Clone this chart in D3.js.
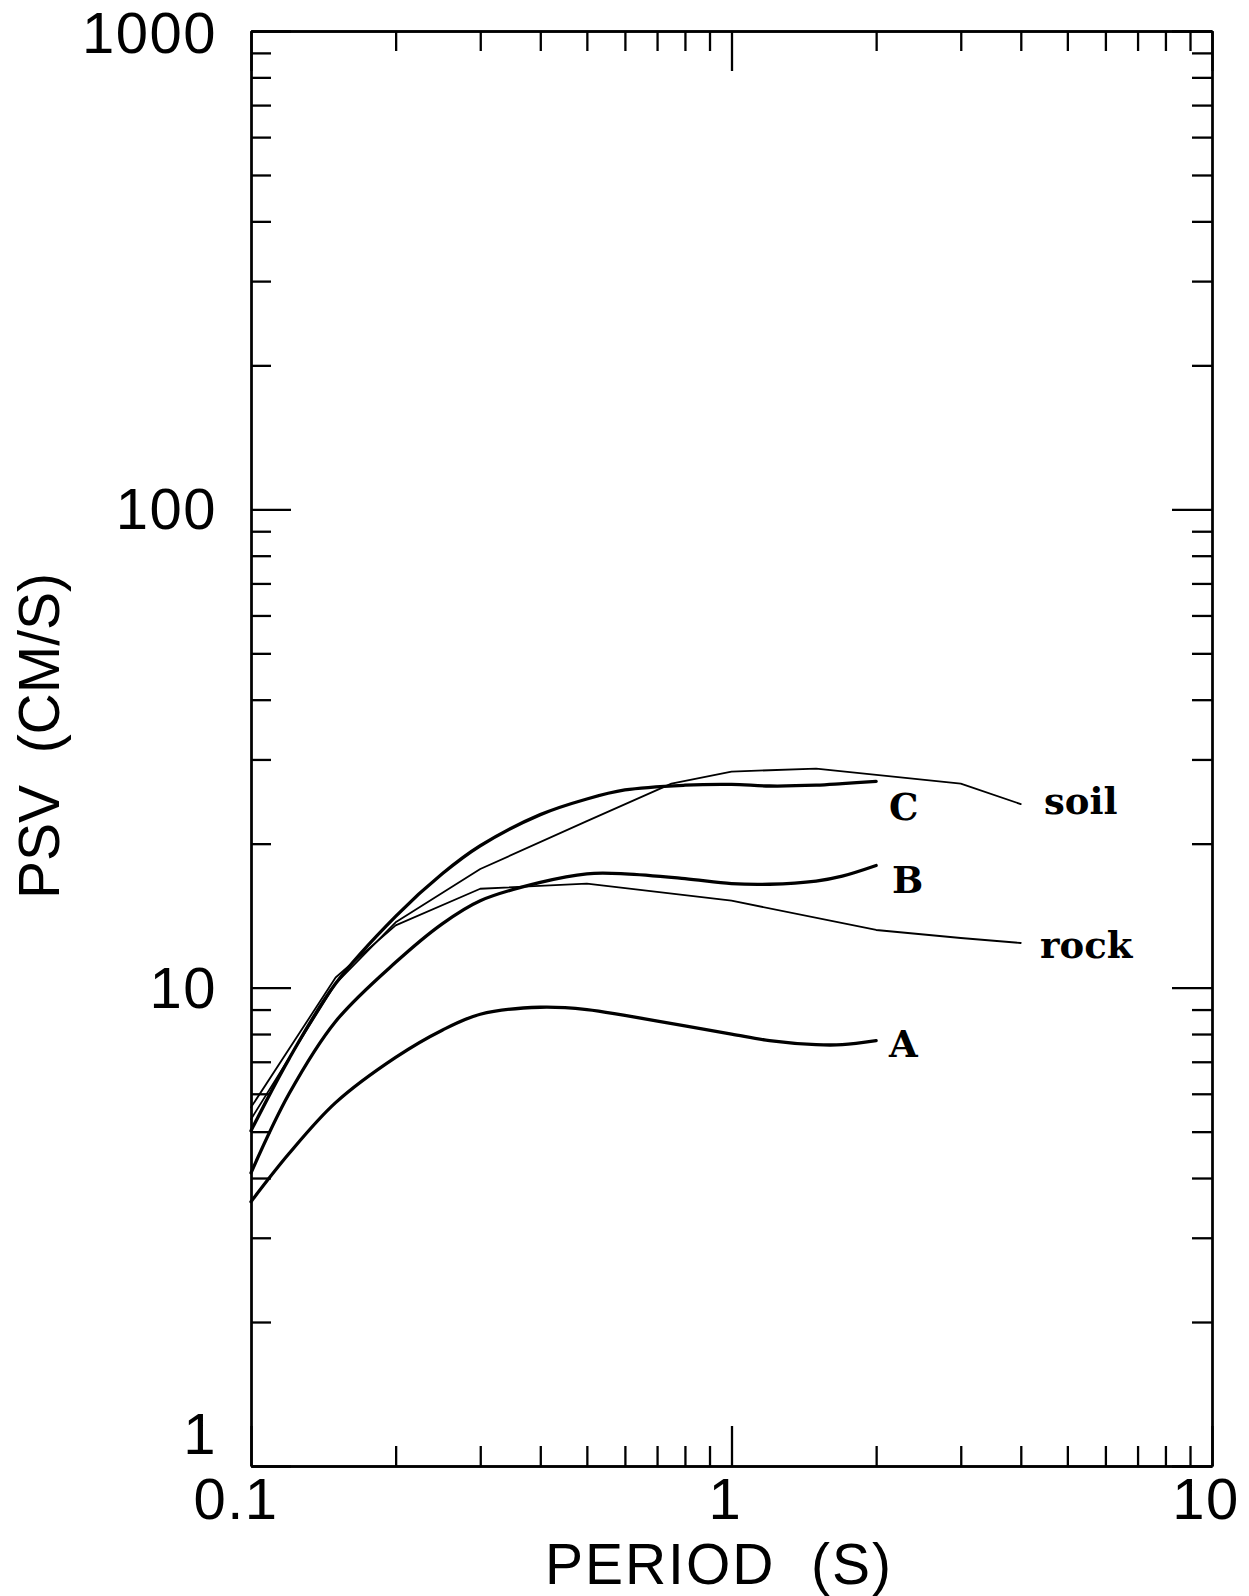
<!DOCTYPE html>
<html><head><meta charset="utf-8">
<script src="https://cdn.jsdelivr.net/npm/d3@7"></script>
<style>html,body{margin:0;padding:0;background:#fff;} svg{display:block;background:#fff} text{white-space:pre}</style>
</head><body>
<svg id="chart" width="1249" height="1596"></svg>
<script>
// ---- data ----
const xTickValues = [0.1, 1, 10];
const xTickLabels = ["0.1", "1", "10"];
const yTickValues = [1, 10, 100, 1000];
const yTickLabels = ["1", "10", "100", "1000"];
const xTitle = "PERIOD  (S)";
const yTitle = "PSV  (CM/S)";

const periodsSite = [0.1, 0.12, 0.15, 0.2, 0.25, 0.3, 0.4, 0.5, 0.6, 0.8, 1.0, 1.2, 1.5, 1.7, 2.0];
const siteA = [3.57, 4.5, 5.75, 7.15, 8.15, 8.8, 9.1, 9.0, 8.75, 8.32, 8.0, 7.75, 7.6, 7.6, 7.75];
const siteB = [4.1, 6.0, 8.5, 11.3, 13.6, 15.2, 16.6, 17.3, 17.3, 16.9, 16.5, 16.45, 16.7, 17.1, 18.0];
const siteC = [5.02, 7.1, 10.2, 14.1, 17.3, 19.8, 23.0, 24.8, 25.9, 26.5, 26.6, 26.4, 26.5, 26.7, 27.0];

const periodsSoil = [0.1, 0.15, 0.2, 0.3, 0.5, 0.75, 1.0, 1.5, 3.0, 4.0];
const soil = [5.31, 10.2, 13.7, 17.7, 22.3, 26.7, 28.3, 28.7, 26.7, 24.2];

const periodsRock = [0.1, 0.15, 0.2, 0.3, 0.5, 1.0, 2.0, 3.0, 4.0];
const rock = [5.62, 10.5, 13.5, 16.1, 16.5, 15.2, 13.2, 12.7, 12.4];

const seriesNames = ["A", "B", "C", "soil", "rock"];

// ---- layout ----
const L = 251, R = 1212, T = 31, B = 1466;
const svg = d3.select("#chart");
const x = d3.scaleLog().domain([0.1, 10]).range([L, R]);
const y = d3.scaleLog().domain([1, 1000]).range([B, T]);

const isMajor = v => Math.abs(Math.log10(v) - Math.round(Math.log10(v))) < 1e-9;
const xMinor = x.ticks().filter(v => !isMajor(v));
const yMinor = y.ticks().filter(v => !isMajor(v));

const MAJ = 40, MIN = 20;
function styleAxis(g) {
  g.selectAll("path.domain").attr("stroke", "#000").attr("stroke-width", 2.3);
  g.selectAll(".tick line").attr("stroke", "#000").attr("stroke-width", 2.3);
  g.selectAll(".tick text").remove();
}
function addAxis(axisFn, scale, tx, ty, vals, size) {
  const g = svg.append("g").attr("transform", `translate(${tx},${ty})`)
    .call(axisFn(scale).tickValues(vals).tickSize(-size).tickSizeOuter(0).tickFormat(""));
  styleAxis(g);
}
addAxis(d3.axisBottom, x, 0, B, xMinor, MIN);
addAxis(d3.axisBottom, x, 0, B, xTickValues, MAJ);
addAxis(d3.axisTop, x, 0, T, xMinor, MIN);
addAxis(d3.axisTop, x, 0, T, xTickValues, MAJ);
addAxis(d3.axisLeft, y, L, 0, yMinor, MIN);
addAxis(d3.axisLeft, y, L, 0, yTickValues, MAJ);
addAxis(d3.axisRight, y, R, 0, yMinor, MIN);
addAxis(d3.axisRight, y, R, 0, yTickValues, MAJ);

const sans = "'Liberation Sans', Arial, Helvetica, sans-serif";
svg.append("g").selectAll("text").data(xTickValues).join("text")
  .attr("x", (d, i) => x(d) + (i === 0 ? -15 : -6)).attr("y", 1519)
  .attr("text-anchor", "middle").attr("font-family", sans).attr("font-size", 58)
  .attr("letter-spacing", 1.5)
  .text((d, i) => xTickLabels[i]);
svg.append("g").selectAll("text").data(yTickValues).join("text")
  .attr("x", 217).attr("y", d => d === 1 ? y(d) - 12.5 : Math.max(y(d) + 20, 53))
  .attr("text-anchor", "end").attr("font-family", sans).attr("font-size", 58)
  .attr("letter-spacing", 1.5)
  .text((d, i) => yTickLabels[i]);

svg.append("text").attr("x", 719).attr("y", 1583.5)
  .attr("text-anchor", "middle").attr("font-family", sans).attr("font-size", 57)
  .attr("letter-spacing", 2)
  .text(xTitle);
svg.append("text").attr("transform", "translate(59,736) rotate(-90)")
  .attr("text-anchor", "middle").attr("font-family", sans).attr("font-size", 57)
  .text(yTitle);

// curves
const smooth = d3.line().x(d => x(d[0])).y(d => y(d[1])).curve(d3.curveCatmullRom.alpha(0.5));
const straight = d3.line().x(d => x(d[0])).y(d => y(d[1]));
const zip = (a, b) => a.map((v, i) => [v, b[i]]);

const series = [
  {name: "A", pts: zip(periodsSite, siteA), gen: smooth, w: 3.3},
  {name: "B", pts: zip(periodsSite, siteB), gen: smooth, w: 3.3},
  {name: "C", pts: zip(periodsSite, siteC), gen: smooth, w: 3.3},
  {name: "soil", pts: zip(periodsSoil, soil), gen: straight, w: 1.8},
  {name: "rock", pts: zip(periodsRock, rock), gen: straight, w: 1.8}
];
svg.append("g").selectAll("path").data(series).join("path")
  .attr("d", d => d.gen(d.pts))
  .attr("fill", "none").attr("stroke", "#000")
  .attr("stroke-width", d => d.w).attr("stroke-linejoin", "round").attr("stroke-linecap", "round");

const labelPos = {A: [889, 1057], B: [892, 893], C: [889, 820], soil: [1044, 814], rock: [1040, 958]};
svg.append("g").selectAll("text").data(seriesNames).join("text")
  .attr("x", d => labelPos[d][0]).attr("y", d => labelPos[d][1])
  .attr("font-family", "'DejaVu Serif', serif").attr("font-weight", "bold").attr("font-size", 37)
  .text(d => d);
</script>
</body></html>
